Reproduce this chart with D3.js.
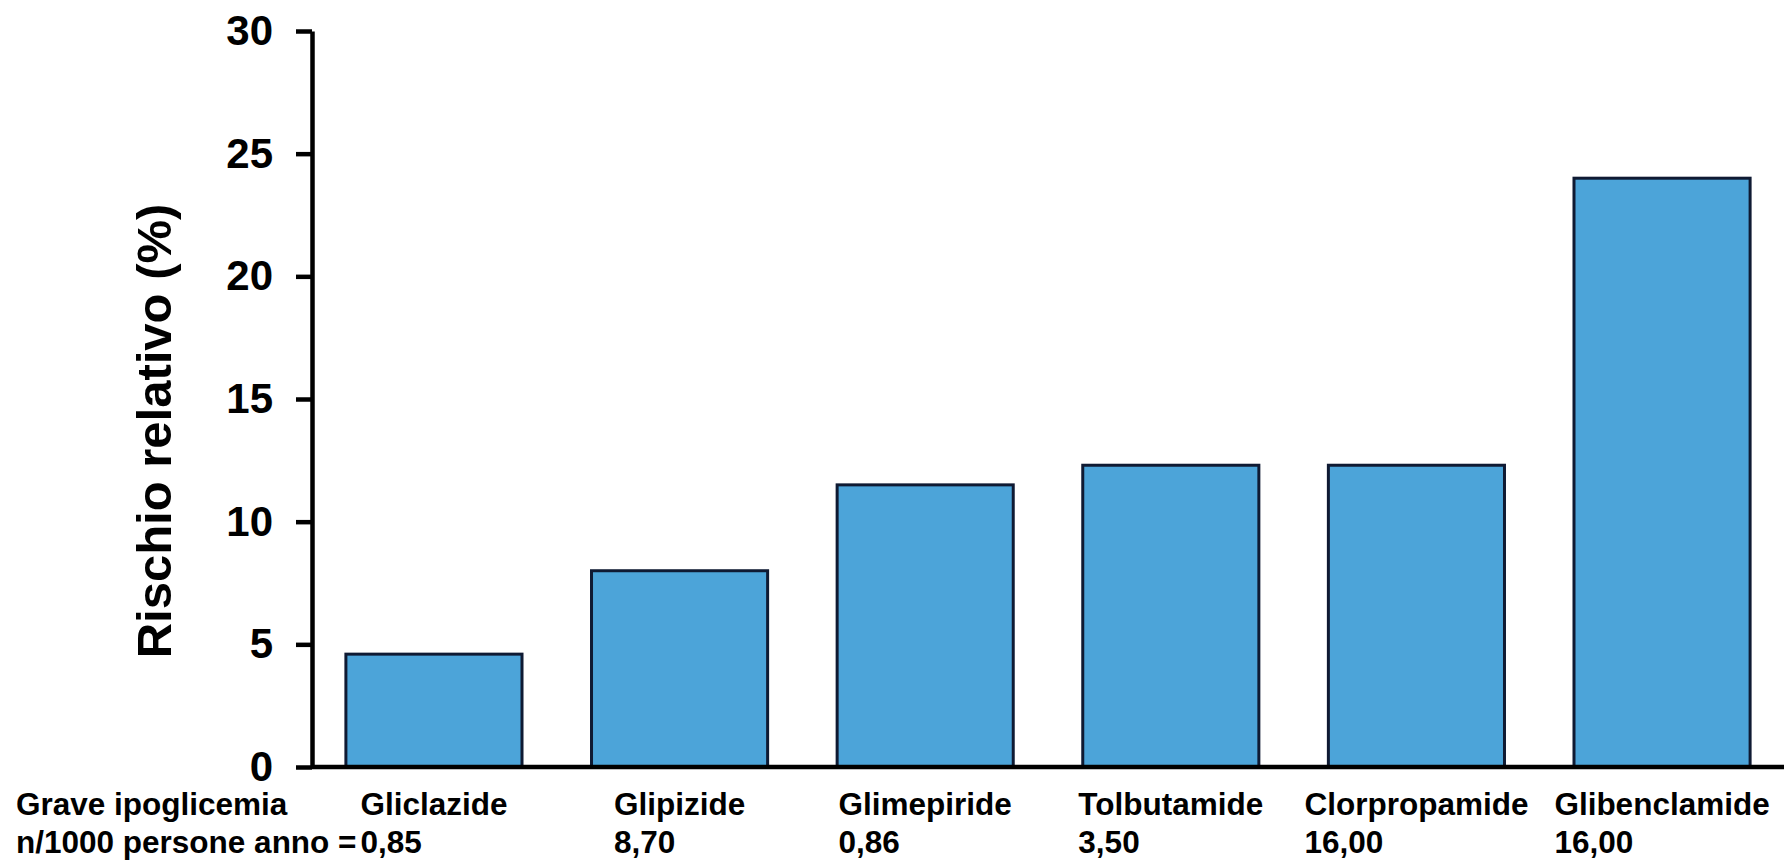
<!DOCTYPE html>
<html lang="it">
<head>
<meta charset="utf-8">
<title>Rischio relativo di ipoglicemia per sulfonilurea</title>
<script src="https://cdn.jsdelivr.net/npm/d3@7"></script>
<style>
  html, body { margin: 0; padding: 0; background: #ffffff; }
  svg { display: block; }
  text { font-family: "Liberation Sans", Arial, Helvetica, sans-serif; font-weight: bold; fill: #000; }
</style>
</head>
<body>
<svg id="chart" width="1784" height="861"></svg>
<script>
// Sulfonylureas compared
const drugs = ["Gliclazide", "Glipizide", "Glimepiride", "Tolbutamide", "Clorpropamide", "Glibenclamide"];
// Relative risk (%) per drug
const relativeRisk = [4.6, 8.0, 11.5, 12.3, 12.3, 24.0];
// Severe hypoglycaemia, events per 1000 person-years
const severeRate = ["0,85", "8,70", "0,86", "3,50", "16,00", "16,00"];
// Y axis ticks
const yTicks = [0, 5, 10, 15, 20, 25, 30];

const rowTitle = "Grave ipoglicemia";
const rowSubtitle = "n/1000 persone anno =";
const yTitle = "Rischio relativo (%)";

const svg = d3.select("#chart");

const axisX = 312;      // vertical axis position
const baseY = 767;      // zero line
const topY = 31;        // top of value range

const y = d3.scaleLinear().domain([0, 30]).range([baseY, topY]);
const x = d3.scaleBand()
  .domain(drugs)
  .range([axisX, 1784])
  .paddingInner(0.283)
  .paddingOuter(0.138);

// Bars
svg.append("g")
  .selectAll("rect")
  .data(drugs)
  .join("rect")
  .attr("x", d => x(d))
  .attr("y", (d, i) => y(relativeRisk[i]))
  .attr("width", x.bandwidth())
  .attr("height", (d, i) => y(0) - y(relativeRisk[i]))
  .attr("fill", "#4ca4d9")
  .attr("stroke", "#0f1a33")
  .attr("stroke-width", 3);

// Horizontal baseline
svg.append("line")
  .attr("x1", axisX)
  .attr("x2", x.range()[1])
  .attr("y1", y(0))
  .attr("y2", y(0))
  .attr("stroke", "#000")
  .attr("stroke-width", 4.5);

// Vertical axis with ticks
const yAxis = d3.axisLeft(y)
  .tickValues(yTicks)
  .tickFormat(d3.format("d"))
  .tickSizeInner(16)
  .tickSizeOuter(0)
  .tickPadding(23);

const gy = svg.append("g")
  .attr("transform", `translate(${axisX},0)`)
  .call(yAxis);

gy.select(".domain").attr("stroke", "#000").attr("stroke-width", 4.5);
gy.selectAll(".tick line").attr("stroke", "#000").attr("stroke-width", 4.5);
gy.selectAll(".tick text")
  .style("font-family", "'Liberation Sans', Arial, sans-serif")
  .style("font-weight", "bold")
  .style("font-size", "42px")
  .attr("fill", "#000");

// Axis title
svg.append("text")
  .attr("transform", "translate(171,431) rotate(-90)")
  .attr("text-anchor", "middle")
  .style("font-size", "49px")
  .text(yTitle);

// Row captions on the left
svg.append("text")
  .attr("x", 16)
  .attr("y", 815)
  .style("font-size", "31.5px")
  .text(rowTitle);

svg.append("text")
  .attr("x", 16)
  .attr("y", 853)
  .style("font-size", "31.5px")
  .text(rowSubtitle);

// Drug names centred under each bar, with the rate left-aligned beneath
const labels = svg.append("g")
  .selectAll("g")
  .data(drugs)
  .join("g");

labels.each(function (d, i) {
  const g = d3.select(this);
  const name = g.append("text")
    .attr("x", x(d) + x.bandwidth() / 2)
    .attr("y", 815)
    .attr("text-anchor", "middle")
    .style("font-size", "31.5px")
    .text(d);
  const left = x(d) + x.bandwidth() / 2 - name.node().getComputedTextLength() / 2;
  g.append("text")
    .attr("x", left)
    .attr("y", 853)
    .style("font-size", "31.5px")
    .text(severeRate[i]);
});
</script>
</body>
</html>
